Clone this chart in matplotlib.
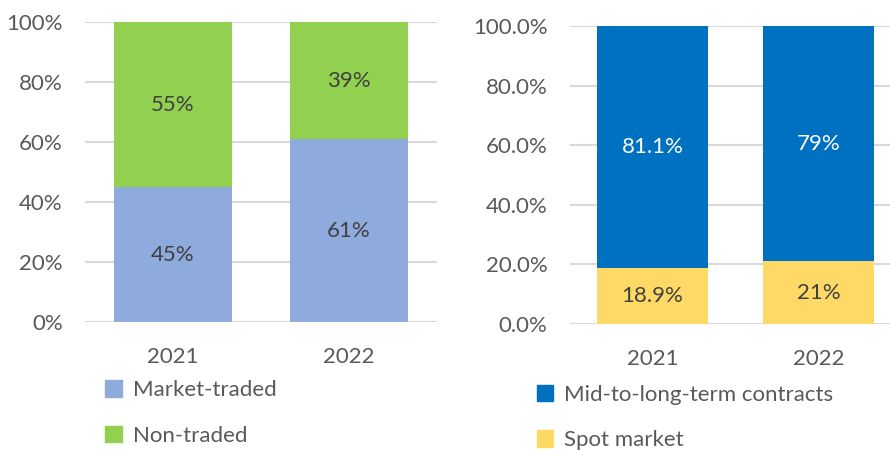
import matplotlib.pyplot as plt
from matplotlib.patches import Patch
from matplotlib.ticker import FuncFormatter, MultipleLocator

plt.rcParams.update({
	"font.family": ["Lato", "DejaVu Sans"],
})
font_size = 16

years = ["2021", "2022"]
market_traded = [45, 61]
non_traded = [55, 39]
spot_market = [18.9, 21]
mid_long = [81.1, 79]
spot_labels = ["18.9%", "21%"]
mid_long_labels = ["81.1%", "79%"]

grid_color = "#D9D9D9"
tick_color = "#595959"
label_dark = "#404040"

fig = plt.figure(figsize=(8.9, 4.5), dpi=100)


def style_axes(ax, fmt):
	ax.set_ylim(0, 100)
	ax.set_xlim(-0.5, 1.5)
	ax.yaxis.set_major_locator(MultipleLocator(20))
	ax.yaxis.set_major_formatter(FuncFormatter(fmt))
	ax.set_xticks(range(len(years)))
	ax.set_xticklabels(years)
	ax.tick_params(length=0, labelsize=font_size, colors=tick_color)
	ax.tick_params(axis="x", pad=18)
	ax.tick_params(axis="y", pad=16)
	ax.grid(axis="y", color=grid_color, lw=1.5)
	ax.set_axisbelow(True)
	for s in ax.spines.values():
		s.set_visible(False)


# left panel
ax1 = fig.add_axes([0.0955, 0.2844, 0.3955, 0.6667])
style_axes(ax1, lambda v, p: f"{v:.0f}%")
b1 = ax1.bar(years, market_traded, width=0.67, color="#8FAADC")
b2 = ax1.bar(years, non_traded, width=0.67, bottom=market_traded, color="#92D050")
ax1.bar_label(b1, labels=[f"{v}%" for v in market_traded], label_type="center", fontsize=font_size, color=label_dark)
ax1.bar_label(b2, labels=[f"{v}%" for v in non_traded], label_type="center", fontsize=font_size, color=label_dark)
ax1.legend(handles=[Patch(color="#8FAADC", label="Market-traded"), Patch(color="#92D050", label="Non-traded")],
	loc="upper left", bbox_to_anchor=(0.118, 0.155), bbox_transform=fig.transFigure, frameon=False,
	fontsize=font_size, handlelength=0.75, handleheight=0.75, handletextpad=0.5, labelspacing=1.15,
	labelcolor=tick_color, borderaxespad=0, borderpad=0)

# right panel
ax2 = fig.add_axes([0.640, 0.28, 0.373, 0.6622])
style_axes(ax2, lambda v, p: f"{v:.1f}%")
b3 = ax2.bar(years, spot_market, width=0.67, color="#FFD966")
b4 = ax2.bar(years, mid_long, width=0.67, bottom=spot_market, color="#0070C0")
ax2.bar_label(b3, labels=spot_labels, label_type="center", fontsize=font_size, color=label_dark)
ax2.bar_label(b4, labels=mid_long_labels, label_type="center", fontsize=font_size, color="white")
ax2.legend(handles=[Patch(color="#0070C0", label="Mid-to-long-term contracts"), Patch(color="#FFD966", label="Spot market")],
	loc="upper left", bbox_to_anchor=(0.603, 0.145), bbox_transform=fig.transFigure, frameon=False,
	fontsize=font_size, handlelength=0.75, handleheight=0.75, handletextpad=0.5, labelspacing=1.15,
	labelcolor=tick_color, borderaxespad=0, borderpad=0)

plt.savefig("out.png", dpi=100)
